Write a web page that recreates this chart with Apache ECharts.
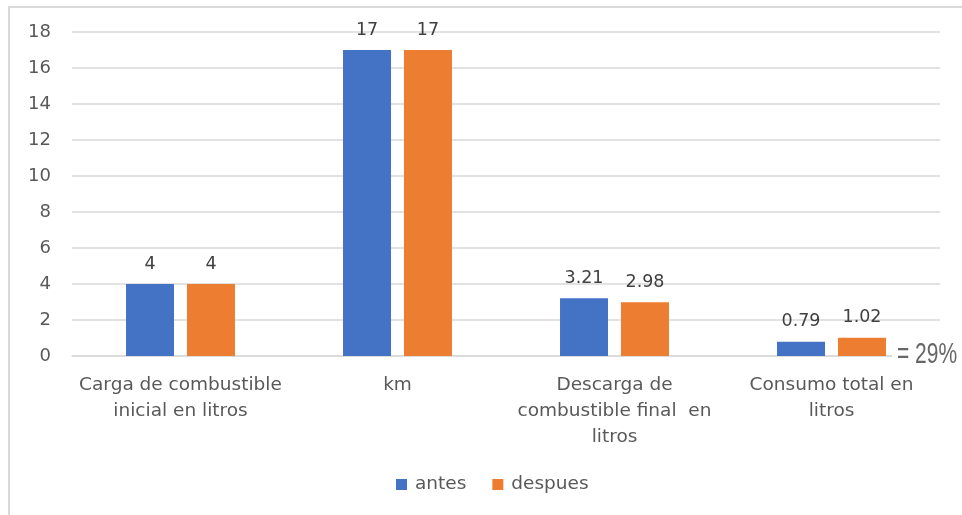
<!DOCTYPE html>
<html><head><meta charset="utf-8">
<script src="https://cdn.jsdelivr.net/npm/echarts@6/dist/echarts.min.js"></script>
<style>html,body{margin:0;padding:0;background:#fff}#c{width:962px;height:515px}</style>
</head><body><div id="c"></div>
<script>
var categories = ["Carga de combustible\ninicial en litros", "km", "Descarga de\ncombustible final  en\nlitros", "Consumo total en\nlitros"];
var antes = [4, 17, 3.21, 0.79];
var despues = [4, 17, 2.98, 1.02];
var yTicks = [0, 2, 4, 6, 8, 10, 12, 14, 16, 18];
var note = "= 29%";

var font = "'DejaVu Sans', 'Open Sans', sans-serif";
var chart = echarts.init(document.getElementById('c'));
chart.setOption({
  animation: false,
  grid: {left: 72, right: 22, top: 32, bottom: 159},
  legend: {
    bottom: 16, left: 391, itemWidth: 11, itemHeight: 11, itemGap: 26,
    icon: 'rect',
    textStyle: {fontFamily: font, fontSize: 18.5, color: '#595959', padding: [0, 0, 0, 3]},
    data: ['antes', 'despues']
  },
  xAxis: {
    type: 'category', data: categories,
    axisLine: {show: true, lineStyle: {color: '#d9d9d9', width: 1.5}},
    axisTick: {show: false},
    axisLabel: {fontFamily: font, fontSize: 18.5, color: '#595959', lineHeight: 26, margin: 16, interval: 0}
  },
  yAxis: {
    type: 'value', min: yTicks[0], max: yTicks[yTicks.length - 1], interval: 2,
    axisLine: {show: false}, axisTick: {show: false},
    splitLine: {lineStyle: {color: '#d9d9d9', width: 1.5}},
    axisLabel: {fontFamily: font, fontSize: 18, color: '#595959', margin: 21}
  },
  series: [
    {name: 'antes', type: 'bar', data: antes, barWidth: 48, barGap: '27%',
     itemStyle: {color: '#4472c4'},
     label: {show: true, position: 'top', distance: 11, fontFamily: font, fontSize: 17.5, color: '#404040'}},
    {name: 'despues', type: 'bar', data: despues, barWidth: 48,
     itemStyle: {color: '#ed7d31'},
     label: {show: true, position: 'top', distance: 11, fontFamily: font, fontSize: 17.5, color: '#404040'}}
  ],
  graphic: [
    {type: 'line', shape: {x1: 8, y1: 7, x2: 962, y2: 7}, z: -10,
     style: {stroke: '#d9d9d9', lineWidth: 2}},
    {type: 'line', shape: {x1: 9, y1: 6, x2: 9, y2: 515}, z: -10,
     style: {stroke: '#d9d9d9', lineWidth: 2}},
    {type: 'rect', shape: {x: 892, y: 336, width: 70, height: 34}, z: 90,
     style: {fill: '#ffffff'}},
    {type: 'text', x: 897, y: 340, scaleX: 0.7, z: 100,
     style: {text: note, fontSize: 30, fontFamily: 'Liberation Sans', fill: '#666666'}}
  ]
});
</script></body></html>
